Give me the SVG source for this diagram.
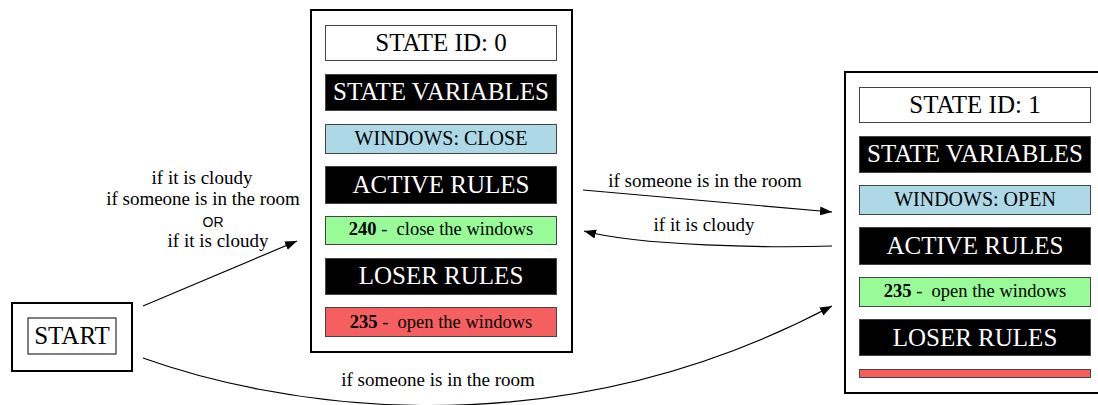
<svg xmlns="http://www.w3.org/2000/svg" width="1098" height="405" viewBox="0 0 1098 405">
  <style>
    text { font-family: "Liberation Serif", "Times New Roman", serif; fill: #000; }
    .outer { fill: #fff; stroke: #000; stroke-width: 2; }
    .row { stroke: #444; stroke-width: 1; }
    .id { fill: #fff; }
    .head { fill: #000; }
    .var { fill: #add8e6; }
    .win { fill: #98fb98; }
    .lose { fill: #f65f5f; }
    .t24 { font-size: 25px; text-anchor: middle; }
    .t24w { font-size: 25px; text-anchor: middle; fill: #fff; }
    .t20 { font-size: 20px; text-anchor: middle; }
    .t18 { font-size: 18.5px; text-anchor: middle; white-space: pre; }
    .lbl { font-size: 19px; text-anchor: middle; }
    .sans { font-family: "Liberation Sans", Arial, sans-serif; font-size: 14px; text-anchor: middle; }
    .edge { fill: none; stroke: #000; stroke-width: 1.2; }
  </style>
  <defs>
    <marker id="arrow" markerUnits="userSpaceOnUse" markerWidth="13" markerHeight="10" refX="12" refY="4.5" orient="auto">
      <path d="M0,0 L12,4.5 L0,9 z" fill="#000"/>
    </marker>
  </defs>

  <rect width="1098" height="405" fill="#fff"/>

  <!-- start node -->
  <g id="start">
    <rect x="12" y="303" width="120" height="68" class="outer"/>
    <rect x="28" y="318" width="88" height="36" fill="#fff" stroke="#000" stroke-width="1"/>
    <text x="72" y="344" class="t24">START</text>
  </g>

  <!-- state 0 -->
  <g id="state0">
    <rect x="311" y="10" width="261" height="342" class="outer"/>
    <rect x="325.5" y="25.5" width="231" height="35" class="row id"/>
    <text x="441" y="51" class="t24">STATE ID: 0</text>
    <rect x="325.5" y="74.5" width="231" height="36" class="row head"/>
    <text x="441" y="100" class="t24w">STATE VARIABLES</text>
    <rect x="325.5" y="124.5" width="231" height="29" class="row var"/>
    <text x="441" y="145" class="t20">WINDOWS: CLOSE</text>
    <rect x="325.5" y="166.5" width="231" height="37" class="row head"/>
    <text x="441" y="193" class="t24w">ACTIVE RULES</text>
    <rect x="325.5" y="216.5" width="231" height="28" class="row win"/>
    <text x="441" y="235" class="t18"><tspan font-weight="bold">240</tspan> -  close the windows</text>
    <rect x="325.5" y="258.5" width="231" height="36" class="row head"/>
    <text x="441" y="284" class="t24w">LOSER RULES</text>
    <rect x="325.5" y="307.5" width="231" height="29" class="row lose"/>
    <text x="441" y="328" class="t18"><tspan font-weight="bold">235</tspan> -  open the windows</text>
  </g>

  <!-- state 1 -->
  <g id="state1">
    <rect x="845" y="72" width="261" height="321" class="outer"/>
    <rect x="859.5" y="87.5" width="231" height="35" class="row id"/>
    <text x="975" y="113" class="t24">STATE ID: 1</text>
    <rect x="859.5" y="136.5" width="231" height="36" class="row head"/>
    <text x="975" y="162" class="t24w">STATE VARIABLES</text>
    <rect x="859.5" y="185.5" width="231" height="29" class="row var"/>
    <text x="975" y="206" class="t20">WINDOWS: OPEN</text>
    <rect x="859.5" y="227.5" width="231" height="37" class="row head"/>
    <text x="975" y="254" class="t24w">ACTIVE RULES</text>
    <rect x="859.5" y="277.5" width="231" height="29" class="row win"/>
    <text x="975" y="297" class="t18"><tspan font-weight="bold">235</tspan> -  open the windows</text>
    <rect x="859.5" y="319.5" width="231" height="36" class="row head"/>
    <text x="975" y="346" class="t24w">LOSER RULES</text>
    <rect x="859.5" y="369.5" width="231" height="8" class="row lose"/>
  </g>

  <!-- transitions -->
  <g id="edges">
    <path d="M143,306 L297,241" class="edge" marker-end="url(#arrow)"/>
    <path d="M143,358 C260,400 540,460 832,306" class="edge" marker-end="url(#arrow)"/>
    <path d="M583,190 L832,212" class="edge" marker-end="url(#arrow)"/>
    <path d="M832,246 C770,248 640,246 584,231" class="edge" marker-end="url(#arrow)"/>

    <text x="202" y="184" class="lbl">if it is cloudy</text>
    <text x="203" y="205" class="lbl">if someone is in the room</text>
    <text x="213" y="227" class="sans">OR</text>
    <text x="218" y="247" class="lbl">if it is cloudy</text>

    <text x="705" y="187" class="lbl">if someone is in the room</text>
    <text x="704" y="231" class="lbl">if it is cloudy</text>
    <text x="438" y="386" class="lbl">if someone is in the room</text>
  </g>
</svg>
